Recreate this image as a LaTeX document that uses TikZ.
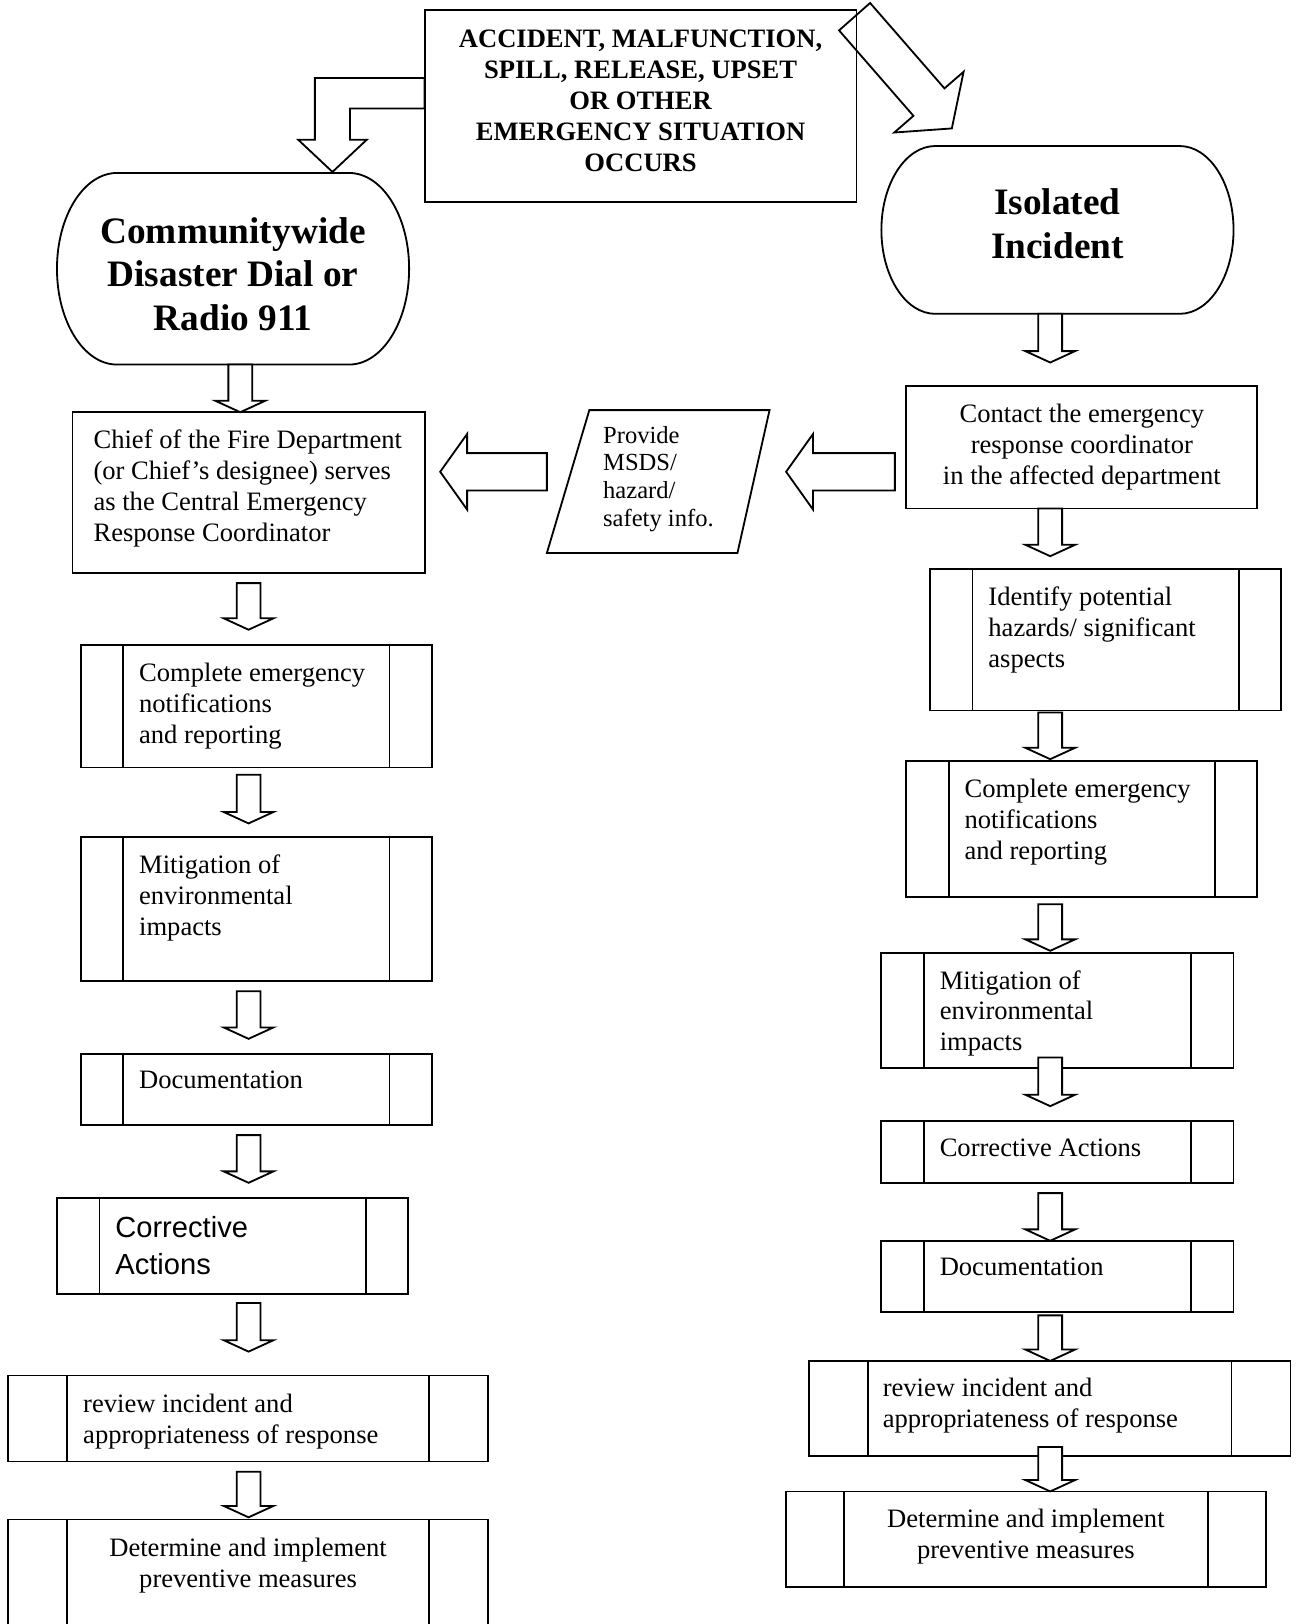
\documentclass[tikz,border=0pt]{standalone}
\usepackage{fontspec}
\setmainfont{Liberation Serif}
\setsansfont{Liberation Sans}
\usetikzlibrary{calc, positioning, backgrounds}

\newcommand{\corps}{\fontsize{14.6}{17}\selectfont}
\newcommand{\corpsgras}{\fontsize{14.6}{17}\selectfont\bfseries}
\newcommand{\grandgras}{\fontsize{20.5}{23.8}\selectfont\bfseries}
\newcommand{\petitcorps}{\fontsize{13.5}{15.3}\selectfont}
\newcommand{\corpssans}{\fontsize{16}{20.4}\selectfont\sffamily}
% contour a bouts arrondis (nom, rayon x, rayon y)
\newcommand{\contourterminal}[3]{%
  \draw[trait] ([xshift=#2]#1.north west) -- ([xshift=-#2]#1.north east)
    arc[start angle=90, end angle=-90, x radius=#2, y radius=#3]
    -- ([xshift=#2]#1.south west)
    arc[start angle=270, end angle=90, x radius=#2, y radius=#3] -- cycle;}

\begin{document}
\begin{tikzpicture}[x=0.2mm, y=-0.2mm]
  \tikzset{
    trait/.style={line width=1pt},
    boite/.style={draw, trait, rectangle, inner sep=0pt, outer sep=0pt, anchor=north west},
    processus/.style={boite, path picture={
        \draw[trait] ([xshift=#1]path picture bounding box.north west) -- ([xshift=#1]path picture bounding box.south west)
          ([xshift=-#1]path picture bounding box.north east) -- ([xshift=-#1]path picture bounding box.south east);}},
    processus/.default=8.2mm,
    texte/.style={anchor=north west, align=left, inner sep=0pt, font=\corps},
    texte centre/.style={texte, anchor=north, align=center},
    fleche bloc/.style n args={3}{draw, trait, fill=white,
      /utils/exec={\def\fbt{#1}\def\fbe{#2}\def\fbp{#3}},
      to path={let \p1=(\tikztostart), \p2=(\tikztotarget),
        \n1={atan2(\y2-\y1,\x2-\x1)}, \n2={veclen(\x2-\x1,\y2-\y1)} in
        (\p1) ++({\n1+90}:\fbt) -- ++(\n1:{\n2-\fbp}) -- ++({\n1+90}:\fbe) -- (\p2)
        -- ($(\p2)+({\n1+180}:\fbp)+({\n1-90}:{\fbt+\fbe})$) -- ++({\n1+90}:\fbe)
        -- ++({\n1+180}:{\n2-\fbp}) -- cycle}},
    fleche bas/.style={fleche bloc={2.3mm}{2.5mm}{2.2mm}},
    fleche gauche/.style={fleche bloc={3.6mm}{3.7mm}{5.2mm}},
    fleche oblique/.style={fleche bloc={4mm}{4.9mm}{6.7mm}},
    fleche coudee/.style={draw, trait, fill=white, to path={let \p1=(\tikztostart), \p2=(\tikztotarget) in
        (\x1,\y1+2.95mm) -- (\x2-3.4mm,\y1+2.95mm) -- (\x2-3.4mm,\y2+6.2mm) -- (\x2-6.6mm,\y2+6.2mm) -- (\p2)
        -- (\x2+6.6mm,\y2+6.2mm) -- (\x2+3.4mm,\y2+6.2mm) -- (\x2+3.4mm,\y1-2.95mm) -- (\x1,\y1-2.95mm) -- cycle}},
  }
  \useasboundingbox (0,0) rectangle (1253,1568);
  \clip (0,0) rectangle (1253,1568);

  \coordinate (colL) at (240,0);
  \coordinate (colR) at (1014,0);
  \coordinate (rangInfo) at (0,455.5);

  % depart
  \node[boite, minimum width=83.4mm, minimum height=37mm] (evt) at (410,10) {};
  \node[texte centre, font=\corpsgras] (evt-t) at ($(evt.north)+(0,18.5)$)
    {ACCIDENT, MALFUNCTION,\\SPILL, RELEASE, UPSET\\OR OTHER\\EMERGENCY SITUATION\\OCCURS};
  \node[boite, draw=none, minimum width=68mm, minimum height=37mm] (comm) at (55,167) {};
  \contourterminal{comm}{11.6mm}{18.5mm}
  \node[texte centre, anchor=center, font=\grandgras] (comm-t) at ($(comm.center)+(0,5)$)
    {Communitywide\\Disaster Dial or\\Radio 911};
  \node[boite, draw=none, minimum width=68mm, minimum height=32.4mm] (isol) at (851,141) {};
  \contourterminal{isol}{10.4mm}{16.2mm}
  \node[texte centre, anchor=center, font=\grandgras] (isol-t) at ($(isol.center)+(0,-6)$) {Isolated\\Incident};

  % colonne gauche
  \node[boite, minimum width=68mm, minimum height=31mm] (chef) at (70,398) {};
  \node[texte] (chef-t) at ($(chef.north west)+(20,17)$)
    {Chief of the Fire Department\\(or Chief’s designee) serves\\as the Central Emergency\\Response Coordinator};
  \node[processus, minimum width=67.8mm, minimum height=23.6mm] (notifL) at (78,623) {};
  \node[texte] (notifL-t) at ($(notifL.north west)+(56,17)$) {Complete emergency\\notifications\\and reporting};
  \node[processus, minimum width=67.8mm, minimum height=27.8mm] (mitigL) at (78,808) {};
  \node[texte] (mitigL-t) at ($(mitigL.north west)+(56,17)$) {Mitigation of\\environmental\\impacts};
  \node[processus, minimum width=67.8mm, minimum height=13.6mm] (docL) at (78,1018) {};
  \node[texte] (docL-t) at ($(docL.north west)+(56,16)$) {Documentation};
  \node[processus, minimum width=67.8mm, minimum height=18.4mm] (corrL) at (55,1157) {};
  \node[texte, font=\corpssans] (corrL-t) at ($(corrL.north west)+(56,17)$) {Corrective\\Actions};
  \node[processus=11.4mm, minimum width=92.6mm, minimum height=16.6mm] (reviewL) at (8,1328) {};
  \node[texte] (reviewL-t) at ($(reviewL.north west)+(72,17.5)$) {review incident and\\appropriateness of response};
  \node[processus=11.4mm, minimum width=92.6mm, minimum height=26.6mm] (prevL) at (8,1467) {};
  \node[texte centre] (prevL-t) at ($(prevL.north)+(0,17.5)$) {Determine and implement\\preventive measures};

  % colonne droite
  \node[boite, minimum width=67.8mm, minimum height=23.6mm] (contact) at (875,373) {};
  \node[texte centre] (contact-t) at ($(contact.north)+(0,17)$)
    {Contact the emergency\\response coordinator\\in the affected department};
  \node[processus, minimum width=67.8mm, minimum height=27.4mm] (identify) at (898,549) {};
  \node[texte] (identify-t) at ($(identify.north west)+(56,17)$) {Identify potential\\hazards/ significant\\aspects};
  \node[processus, minimum width=67.8mm, minimum height=26.2mm] (notifR) at (875,735) {};
  \node[texte] (notifR-t) at ($(notifR.north west)+(56,17)$) {Complete emergency\\notifications\\and reporting};
  \node[processus, minimum width=68mm, minimum height=22.2mm] (mitigR) at (851,920) {};
  \node[texte] (mitigR-t) at ($(mitigR.north west)+(56,16.5)$) {Mitigation of\\environmental\\impacts};
  \node[processus, minimum width=68mm, minimum height=12mm] (corrR) at (851,1082) {};
  \node[texte] (corrR-t) at ($(corrR.north west)+(56,17)$) {Corrective Actions};
  \node[processus, minimum width=68mm, minimum height=13.8mm] (docR) at (851,1198) {};
  \node[texte] (docR-t) at ($(docR.north west)+(56,16.5)$) {Documentation};
  \node[processus=11.4mm, minimum width=93mm, minimum height=18.4mm] (reviewR) at (781,1314) {};
  \node[texte] (reviewR-t) at ($(reviewR.north west)+(71,16.5)$) {review incident and\\appropriateness of response};
  \node[processus=11.2mm, minimum width=92.6mm, minimum height=18.4mm] (prevR) at (759,1440) {};
  \node[texte centre] (prevR-t) at ($(prevR.north)+(0,16.5)$) {Determine and implement\\preventive measures};

  % info securite
  \node[boite, draw=none, minimum width=43mm, minimum height=27.6mm] (param) at (528,396) {};
  \draw[trait] ([xshift=8.2mm]param.north west) -- (param.north east) -- ([xshift=-6.2mm]param.south east)
    -- (param.south west) -- cycle;
  \node[texte, font=\petitcorps] (param-t) at ($(param.north west)+(54,15)$) {Provide\\MSDS/\\hazard/\\safety info.};

  % fleches
  \begin{scope}[on background layer]
    \draw[fleche coudee] ($(evt.north west)+(0,80)$) to ($(comm.north)+(96,-1)$);
    \draw[fleche oblique] ($(evt.north east)+(-2,6)$) to ($(isol.north)+(-102,-17)$);
  \end{scope}
  \draw[fleche gauche] (param.west |- rangInfo) to ($(chef.east |- rangInfo)+(15,0)$);
  \draw[fleche gauche] ($(contact.west |- rangInfo)+(-11,0)$) to ($(param.east |- rangInfo)+(16,0)$);

  \draw[fleche bas] ($(comm.south)+(7,0)$) to ($(chef.north)+(-8,0)$);
  \draw[fleche bas] ($(chef.south)+(0,10)$) to ($(notifL.north -| colL)+(0,-15)$);
  \draw[fleche bas] ($(notifL.south -| colL)+(0,7)$) to ($(mitigL.north -| colL)+(0,-13)$);
  \draw[fleche bas] ($(mitigL.south -| colL)+(0,10)$) to ($(docL.north -| colL)+(0,-15)$);
  \draw[fleche bas] ($(docL.south -| colL)+(0,10)$) to ($(corrL.north -| colL)+(0,-15)$);
  \draw[fleche bas] ($(corrL.south -| colL)+(0,9)$) to ($(reviewL.north -| colL)+(0,-23)$);
  \draw[fleche bas] ($(reviewL.south -| colL)+(0,10)$) to ($(prevL.north -| colL)+(0,-2)$);

  \draw[fleche bas] (isol.south -| colR) to ($(contact.north -| colR)+(0,-23)$);
  \draw[fleche bas] (contact.south -| colR) to ($(identify.north -| colR)+(0,-12)$);
  \draw[fleche bas] ($(identify.south -| colR)+(0,2)$) to ($(notifR.north -| colR)+(0,-2)$);
  \draw[fleche bas] ($(notifR.south -| colR)+(0,7)$) to ($(mitigR.north -| colR)+(0,-2)$);
  \draw[fleche bas] ($(mitigR.south -| colR)+(0,-10)$) to ($(corrR.north -| colR)+(0,-14)$);
  \draw[fleche bas] ($(corrR.south -| colR)+(0,10)$) to (docR.north -| colR);
  \draw[fleche bas] ($(docR.south -| colR)+(0,3)$) to (reviewR.north -| colR);
  \draw[fleche bas] ($(reviewR.south -| colR)+(0,-9)$) to (prevR.north -| colR);
\end{tikzpicture}
\end{document}
